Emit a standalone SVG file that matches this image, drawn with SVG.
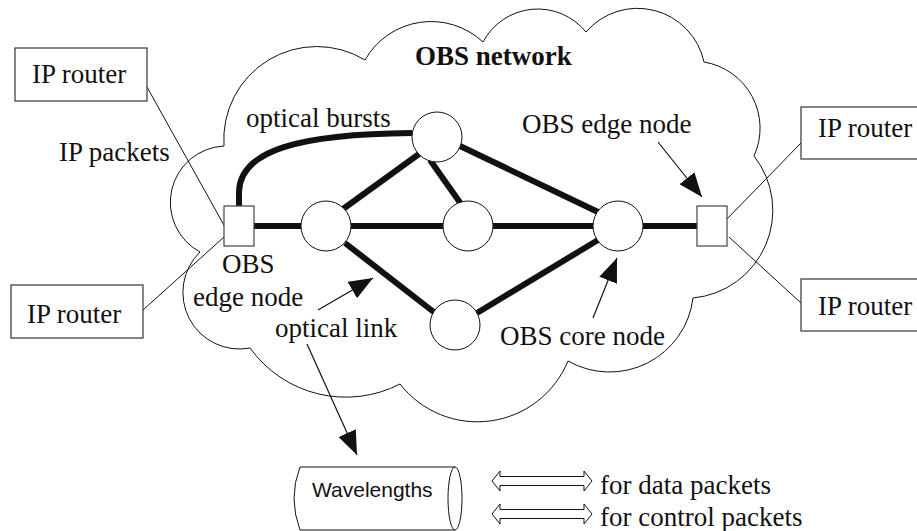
<svg xmlns="http://www.w3.org/2000/svg" width="917" height="531" viewBox="0 0 917 531">
  <defs>
    <marker id="head" viewBox="0 0 24 19" refX="24" refY="9.5" markerWidth="24" markerHeight="19" markerUnits="userSpaceOnUse" orient="auto">
      <path d="M0,0 L24,9.5 L0,19 Z" fill="#111"/>
    </marker>
    <style>
      .lbl { font-family: "Liberation Serif", "Times New Roman", serif; font-size: 27px; fill: #111; }
      .bold { font-weight: bold; }
      .sans { font-family: "Liberation Sans", Arial, sans-serif; font-size: 21px; fill: #111; }
      .thin { stroke: #111; stroke-width: 1; fill: none; }
      .link { stroke: #111; stroke-width: 6; fill: none; }
      .node { fill: #fff; stroke: #111; stroke-width: 1; }
      .edge { fill: #fff; stroke: #444; stroke-width: 1.2; }
      .box { fill: #fff; stroke: #333; stroke-width: 1.2; }
      .ptr { stroke: #111; stroke-width: 1.2; fill: none; }
    </style>
  </defs>
  <rect width="917" height="531" fill="#fff"/>

  <!-- cloud outline of the OBS network -->
  <path id="cloud" class="thin" d="M224,146
    A93,93 0 0 1 365,60
    A76,76 0 0 1 483,42
    A62,62 0 0 1 586,32
    A68,68 0 0 1 704,62
    A67,67 0 0 1 754,156
    A88,88 0 0 1 693,298
    A84,84 0 0 1 568,361
    A98,98 0 0 1 400,384
    A118,118 0 0 1 250,348
    A56.5,56.5 0 0 1 200,252
    A56.4,56.4 0 0 1 224,146 Z"/>

  <!-- access lines between IP routers and edge nodes -->
  <g id="access" class="thin">
    <line x1="147" y1="87" x2="225" y2="227"/>
    <line x1="143" y1="310" x2="224" y2="237"/>
    <line x1="801" y1="143" x2="726" y2="220"/>
    <line x1="729" y1="237" x2="801" y2="303"/>
  </g>

  <!-- optical links -->
  <g id="connectors">
    <path class="link" d="M239,206 V192 C240,150 300,134 412,133"/>
    <line class="link" x1="254" y1="226" x2="301" y2="226"/>
    <line class="link" x1="351" y1="226" x2="443" y2="226"/>
    <line class="link" x1="493" y1="226" x2="593" y2="226"/>
    <line class="link" x1="643" y1="226" x2="697" y2="226"/>
    <line class="link" x1="343" y1="209" x2="419" y2="154"/>
    <line class="link" x1="430" y1="160" x2="461" y2="204"/>
    <line class="link" x1="460" y1="146" x2="598" y2="212"/>
    <line class="link" x1="345" y1="243" x2="435" y2="313"/>
    <line class="link" x1="477" y1="313" x2="598" y2="240"/>
  </g>

  <!-- core nodes -->
  <g id="core-top"><circle class="node" cx="437" cy="137" r="25"/></g>
  <g id="core-left"><circle class="node" cx="326" cy="226" r="25"/></g>
  <g id="core-mid"><circle class="node" cx="468" cy="226" r="25"/></g>
  <g id="core-right"><circle class="node" cx="618" cy="226" r="25"/></g>
  <g id="core-bottom"><circle class="node" cx="455" cy="325" r="25"/></g>

  <!-- edge nodes -->
  <g id="edge-left"><rect class="edge" x="224" y="206" width="30" height="40"/></g>
  <g id="edge-right"><rect class="edge" x="697" y="206" width="30" height="40"/></g>

  <!-- IP routers -->
  <g id="router-tl">
    <rect class="box" x="15" y="48" width="132" height="53"/>
    <text class="lbl" x="32" y="83">IP router</text>
  </g>
  <g id="router-bl">
    <rect class="box" x="11" y="285" width="132" height="53"/>
    <text class="lbl" x="27" y="323">IP router</text>
  </g>
  <g id="router-tr">
    <rect class="box" x="801" y="107" width="140" height="52"/>
    <text class="lbl" x="818" y="137">IP router</text>
  </g>
  <g id="router-br">
    <rect class="box" x="801" y="279" width="140" height="52"/>
    <text class="lbl" x="818" y="315">IP router</text>
  </g>

  <!-- callout pointers -->
  <g id="pointers" class="ptr">
    <line x1="658" y1="142" x2="702" y2="197" marker-end="url(#head)"/>
    <line x1="593" y1="318" x2="617" y2="258" marker-end="url(#head)"/>
    <line x1="318" y1="310" x2="373" y2="278" marker-end="url(#head)"/>
    <line x1="307" y1="344" x2="357" y2="455" marker-end="url(#head)"/>
  </g>

  <!-- labels -->
  <text class="lbl bold" x="415" y="65">OBS network</text>
  <text class="lbl" x="246" y="127">optical bursts</text>
  <text class="lbl" x="59" y="161">IP packets</text>
  <text class="lbl" x="522" y="133">OBS edge node</text>
  <text class="lbl" x="222" y="273">OBS</text>
  <text class="lbl" x="193" y="306">edge node</text>
  <text class="lbl" x="275" y="337">optical link</text>
  <text class="lbl" x="500" y="345">OBS core node</text>

  <!-- legend: wavelength bundle -->
  <g id="wavelengths">
    <path class="thin" d="M300,467 H455 M300,530 H455 M300,467 Q288,498 300,530"/>
    <ellipse class="thin" cx="455" cy="498.5" rx="7" ry="31.5"/>
    <text class="sans" x="312" y="497">Wavelengths</text>
  </g>

  <!-- legend: packet channels -->
  <g id="legend-data">
    <path class="thin" d="M492,481 L500,471 V476.5 H584 V471 L592,481 L584,491 V485.5 H500 V491 Z"/>
    <text class="lbl" x="600" y="494">for data packets</text>
  </g>
  <g id="legend-control">
    <path class="thin" d="M492,514 L500,504 V509.5 H584 V504 L592,514 L584,524 V518.5 H500 V524 Z"/>
    <text class="lbl" x="600" y="526">for control packets</text>
  </g>
</svg>
